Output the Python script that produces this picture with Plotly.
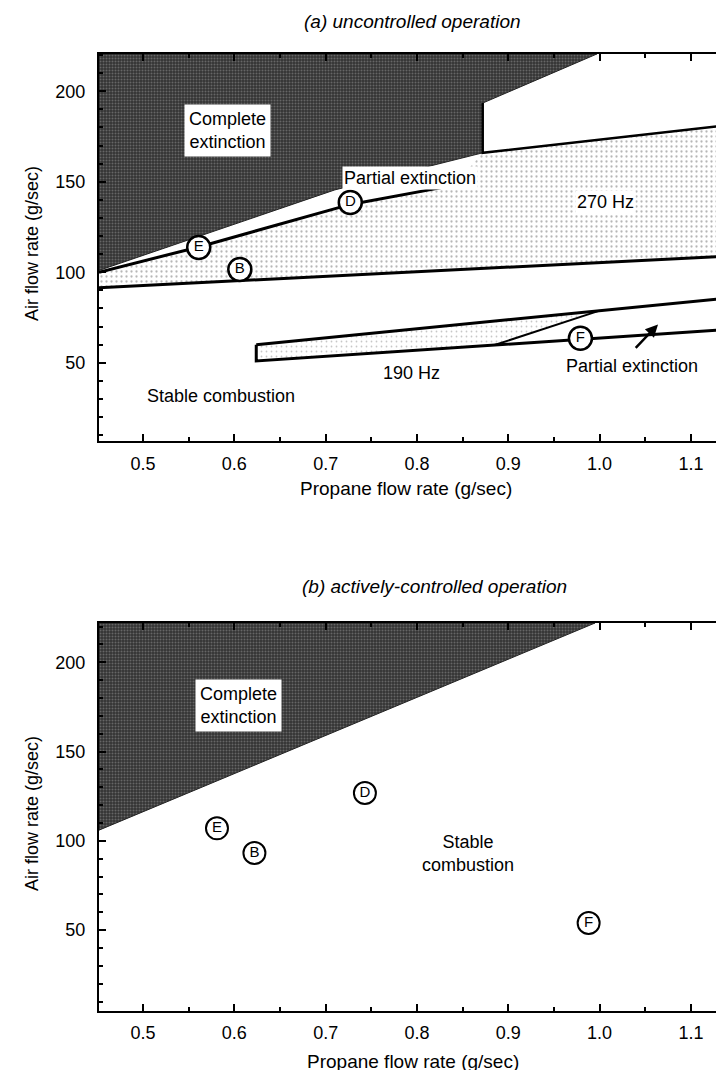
import plotly.graph_objects as go

# ---------------- data ----------------
X_RANGE = [0.4518, 1.145]
Y_RANGE_A = [6.6, 220.6]
Y_RANGE_B = [5.0, 222.0]
x_ticks = [0.5, 0.6, 0.7, 0.8, 0.9, 1.0, 1.1]
x_tick_text = ["0.5", "0.6", "0.7", "0.8", "0.9", "1.0", "1.1"]
y_ticks = [50, 100, 150, 200]
y_tick_text = ["50", "100", "150", "200"]

# panel (a): complete extinction region
ext_a_x = [0.4518, 0.4518, 0.71, 0.872, 0.872, 0.997, 0.4518]
ext_a_y = [220.6, 101.0, 145.5, 166.0, 193.5, 220.6, 220.6]
# panel (a): 270 Hz oscillation region
hz270_x = [0.4518, 0.561, 0.727, 0.84, 0.872, 1.145, 1.145, 0.4518, 0.4518]
hz270_y = [100.0, 114.0, 137.5, 148.0, 166.0, 181.5, 109.0, 91.5, 100.0]
# boundary lines
ed_line_x = [0.4518, 0.561, 0.727, 0.84]
ed_line_y = [100.0, 114.0, 137.5, 148.0]
low270_x = [0.4518, 1.145]
low270_y = [91.5, 109.0]
step_x = [0.872, 0.872, 1.145]
step_y = [193.5, 166.0, 181.5]
# panel (a): 190 Hz region
hz190_x = [0.624, 1.0, 0.885, 0.624, 0.624]
hz190_y = [60.0, 78.8, 59.8, 51.0, 60.0]
up190_x = [0.624, 1.145]
up190_y = [60.0, 86.0]
lo190_x = [0.624, 0.624, 1.145]
lo190_y = [60.0, 51.0, 68.5]
diag190_x = [0.885, 1.0]
diag190_y = [59.8, 78.8]

# operating points
pt_labels = ["E", "B", "D", "F"]
pt_a_x = [0.561, 0.606, 0.727, 0.979]
pt_a_y = [113.7, 101.5, 138.5, 63.5]
pt_b_x = [0.581, 0.622, 0.743, 0.988]
pt_b_y = [107.0, 93.2, 126.8, 54.0]

# panel (b): complete extinction region
ext_b_x = [0.4518, 0.4518, 0.995, 0.4518]
ext_b_y = [222.0, 106.0, 222.0, 222.0]

FONT = "Liberation Sans, Arial, sans-serif"

fig = go.Figure()

dark_pattern = dict(shape=".", bgcolor="#333333", fgcolor="#9a9a9a", size=3, solidity=0.35)
speck_pattern = dict(shape=".", bgcolor="white", fgcolor="#707070", size=5, solidity=0.16)
speck190_pattern = dict(shape=".", bgcolor="white", fgcolor="#909090", size=5, solidity=0.1)

def poly(x, y, pattern, xa, ya, lw=0):
    fig.add_trace(go.Scatter(x=x, y=y, mode="lines", fill="toself",
                             fillcolor=pattern["bgcolor"], fillpattern=pattern,
                             line=dict(color="#222", width=lw), xaxis=xa, yaxis=ya,
                             hoverinfo="skip", showlegend=False))

def line(x, y, xa, ya, w=3):
    fig.add_trace(go.Scatter(x=x, y=y, mode="lines", line=dict(color="black", width=w),
                             xaxis=xa, yaxis=ya, hoverinfo="skip", showlegend=False))

# panel (a)
poly(hz270_x, hz270_y, speck_pattern, "x", "y")
poly(hz190_x, hz190_y, speck190_pattern, "x", "y")
poly(ext_a_x, ext_a_y, dark_pattern, "x", "y", lw=1)
line(ed_line_x, ed_line_y, "x", "y", 3)
line(low270_x, low270_y, "x", "y", 3)
line(step_x, step_y, "x", "y", 2.5)
line(up190_x, up190_y, "x", "y", 3)
line(lo190_x, lo190_y, "x", "y", 3)
line(diag190_x, diag190_y, "x", "y", 2)

fig.add_trace(go.Scatter(x=pt_a_x, y=pt_a_y, mode="markers+text", text=pt_labels,
                         textposition="middle center",
                         textfont=dict(family=FONT, size=15, color="black"),
                         marker=dict(symbol="circle", size=23, color="white",
                                     line=dict(color="black", width=2.5)),
                         xaxis="x", yaxis="y", hoverinfo="skip", showlegend=False))

# panel (b)
poly(ext_b_x, ext_b_y, dark_pattern, "x2", "y2", lw=1)
fig.add_trace(go.Scatter(x=pt_b_x, y=pt_b_y, mode="markers+text", text=pt_labels,
                         textposition="middle center",
                         textfont=dict(family=FONT, size=15, color="black"),
                         marker=dict(symbol="circle", size=22, color="white",
                                     line=dict(color="black", width=2)),
                         xaxis="x2", yaxis="y2", hoverinfo="skip", showlegend=False))

# empty traces for right-hand tick axes
fig.add_trace(go.Scatter(x=[None], y=[None], xaxis="x", yaxis="y3", showlegend=False))
fig.add_trace(go.Scatter(x=[None], y=[None], xaxis="x2", yaxis="y4", showlegend=False))

tickfont = dict(family=FONT, size=18, color="black")
xa = dict(range=X_RANGE, domain=[91 / 724, 1.0], showline=True, linecolor="black", linewidth=2,
          mirror="ticks", ticks="inside", ticklen=7, tickwidth=2, tickcolor="black",
          tickmode="array", tickvals=x_ticks, ticktext=x_tick_text, tickfont=tickfont,
          minor=dict(dtick=0.05, tick0=0.5, ticks="inside", ticklen=4, tickwidth=1.5, tickcolor="black"),
          showgrid=False, zeroline=False, ticklabelstandoff=5)
ya = dict(showline=True, linecolor="black", linewidth=2, ticks="inside", ticklen=7, tickwidth=2,
          tickcolor="black", tickmode="array", tickvals=y_ticks, ticktext=y_tick_text,
          tickfont=tickfont,
          minor=dict(dtick=10, tick0=0, ticks="inside", ticklen=4, tickwidth=1.5, tickcolor="black"),
          showgrid=False, zeroline=False, ticklabelstandoff=8)
yr = dict(showline=False, ticks="inside", ticklen=6, tickwidth=2, tickcolor="black",
          tickmode="array", tickvals=y_ticks, showticklabels=False,
          minor=dict(dtick=10, tick0=0, ticks="inside", ticklen=4, tickwidth=1.5, tickcolor="black"),
          showgrid=False, zeroline=False, side="right")

dom_a = [(1070 - 433.3) / 1070, (1070 - 46) / 1070]
dom_b = [(1070 - 1002.5) / 1070, (1070 - 615) / 1070]

fig.update_layout(
    width=724, height=1070,
    margin=dict(l=0, r=0, t=0, b=0),
    paper_bgcolor="white", plot_bgcolor="white",
    font=dict(family=FONT, color="black"),
    xaxis=dict(xa, anchor="y"),
    yaxis=dict(ya, range=Y_RANGE_A, domain=dom_a, anchor="x"),
    xaxis2=dict(xa, anchor="y2"),
    yaxis2=dict(ya, range=Y_RANGE_B, domain=dom_b, anchor="x2"),
    yaxis3=dict(yr, range=Y_RANGE_A, overlaying="y", anchor="x"),
    yaxis4=dict(yr, range=Y_RANGE_B, overlaying="y2", anchor="x2"),
    showlegend=False,
)

def label(text, x, y, xref, yref, size=18, bg=None, pad=2):
    fig.add_annotation(text=text, x=x, y=y, xref=xref, yref=yref, showarrow=False,
                       font=dict(family=FONT, size=size, color="black"),
                       bgcolor=bg, borderpad=pad, xanchor="center", yanchor="middle")

# region labels, panel (a)
label("Complete<br>extinction", 0.592, 178.4, "x", "y", 18, "white", 4)
label("Partial extinction", 0.792, 152.0, "x", "y", 18, "white", 1)
label("270 Hz", 1.006, 139.0, "x", "y", 18, "white", 1)
label("190 Hz", 0.794, 44.5, "x", "y", 18)
label("Partial extinction", 1.036, 48.2, "x", "y", 18)
label("Stable combustion", 0.585, 31.6, "x", "y", 18)
fig.add_annotation(x=1.064, y=71.2, ax=1.038, ay=57.4, xref="x", yref="y", axref="x", ayref="y",
                   showarrow=True, arrowhead=2, arrowsize=1, arrowwidth=2.5, arrowcolor="black", text="")

# region labels, panel (b)
label("Complete<br>extinction", 0.605, 176.0, "x2", "y2", 18, "white", 4)
label("Stable<br>combustion", 0.856, 93.0, "x2", "y2", 18)

# titles
def ptext(text, px, py, size=18, angle=0):
    fig.add_annotation(text=text, x=px / 724, y=(1070 - py) / 1070, xref="paper", yref="paper",
                       showarrow=False, textangle=angle,
                       font=dict(family=FONT, size=size, color="black"),
                       xanchor="center", yanchor="middle")

ptext("<i>(a) uncontrolled operation</i>", 404, 13, 19)
ptext("<i>(b) actively-controlled operation</i>", 426, 578, 19)
ptext("Propane flow rate (g/sec)", 398, 481, 19)
ptext("Propane flow rate (g/sec)", 405, 1053, 19)
ptext("Air flow rate (g/sec)", 24, 236, 18, -90)
ptext("Air flow rate (g/sec)", 24, 806, 18, -90)

fig.write_html("out.html")
